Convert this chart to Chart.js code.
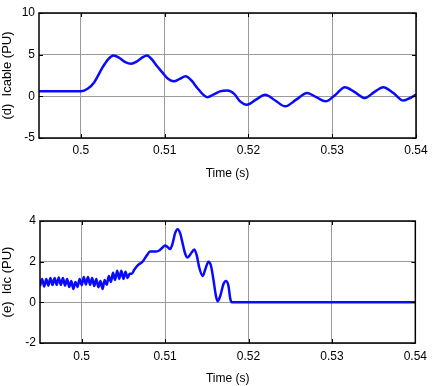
<!DOCTYPE html>
<html>
<head>
<meta charset="utf-8">
<script src="https://cdn.jsdelivr.net/npm/chart.js@4.4.1/dist/chart.umd.min.js"></script>
<style>
  html, body { margin: 0; padding: 0; background: #fff; }
  .wrap { position: absolute; left: 0; width: 433px; }
</style>
</head>
<body>
<div class="wrap" style="top:0;height:181px"><canvas id="cableChart"></canvas></div>
<div class="wrap" style="top:193px;height:193px"><canvas id="dcChart"></canvas></div>
<script>
// (d) cable current
const cableTime = [0.495, 0.5, 0.5008, 0.5016, 0.5026, 0.5033, 0.5039, 0.5046, 0.5053, 0.506,
  0.5067, 0.5074, 0.5079, 0.5085, 0.5091, 0.5097, 0.5104, 0.5111, 0.5118, 0.5125,
  0.5132, 0.5139, 0.5146, 0.5151, 0.5158, 0.5166, 0.5175, 0.5183, 0.519, 0.5198,
  0.5209, 0.522, 0.5232, 0.5244, 0.5257, 0.527, 0.5281, 0.5292, 0.5304, 0.5315,
  0.5327, 0.5339, 0.535, 0.5361, 0.5373, 0.5385, 0.5393, 0.54];
const cableValues = [0.6, 0.6, 0.9, 1.7, 3.5, 4.5, 4.9, 4.6, 4.1, 3.9,
  4.2, 4.7, 4.9, 4.4, 3.6, 2.9, 2.1, 1.8, 2.1, 2.4,
  1.9, 1.0, 0.2, -0.1, 0.2, 0.6, 0.7, 0.3, -0.6, -1.0,
  -0.4, 0.2, -0.5, -1.2, -0.4, 0.4, -0.1, -0.6, 0.2, 1.1,
  0.5, -0.2, 0.5, 1.1, 0.4, -0.5, -0.2, 0.2];

// (e) dc current
const dcTime = [0.495, 0.49525, 0.4955, 0.49575, 0.496, 0.49625, 0.4965, 0.49675, 0.497, 0.49725,
  0.4975, 0.49775, 0.498, 0.49825, 0.4985, 0.49875, 0.499, 0.49925, 0.4995, 0.49975,
  0.5, 0.50025, 0.5005, 0.50075, 0.501, 0.50125, 0.5015, 0.50175, 0.502, 0.50225,
  0.5025, 0.50275, 0.503, 0.50325, 0.5035, 0.50375, 0.504, 0.50425, 0.5045, 0.50475,
  0.505, 0.50525, 0.5055, 0.50575, 0.506,
  0.5063, 0.5068, 0.5073, 0.5078, 0.5082, 0.5088, 0.5093, 0.5097, 0.51, 0.5103,
  0.5106, 0.5109, 0.5112, 0.5115, 0.5118, 0.5121, 0.5124, 0.5127, 0.5131, 0.5135,
  0.5138, 0.5141, 0.5145, 0.5148, 0.5152, 0.5155, 0.5158, 0.5161, 0.5163, 0.5166,
  0.517, 0.5173, 0.5176, 0.5178, 0.518, 0.54];
const dcValues = [0.8, 1.15, 0.78, 1.15, 0.82, 1.2, 0.85, 1.2, 0.86, 1.22,
  0.86, 1.2, 0.82, 1.15, 0.76, 1.05, 0.66, 1.0, 0.76, 1.15,
  0.84, 1.25, 0.88, 1.25, 0.86, 1.2, 0.8, 1.15, 0.74, 1.05,
  0.66, 1.1, 0.86, 1.3, 1.0, 1.45, 1.1, 1.55, 1.15, 1.55,
  1.15, 1.5, 1.2, 1.4, 1.4,
  1.6, 1.85, 2.0, 2.3, 2.5, 2.5, 2.55, 2.7, 2.8, 2.72,
  2.62, 2.9, 3.4, 3.6, 3.4, 2.9, 2.4, 2.2, 2.4, 2.6,
  2.3, 1.7, 1.3, 1.6, 2.0, 1.8, 1.1, 0.3, 0.05, 0.3,
  0.9, 1.05, 0.8, 0.2, 0.0, 0.0];

const timeTicks = [0.5, 0.51, 0.52, 0.53, 0.54];
const cableTicks = [-5, 0, 5, 10];
const dcTicks = [-2, 0, 2, 4];

const FONT = 'Arial, "Liberation Sans", sans-serif';

// black box + small inward ticks like matlab
const boxPlugin = {
  id: 'box',
  afterDraw(chart) {
    const { ctx, chartArea: a, scales } = chart;
    ctx.save();
    ctx.strokeStyle = '#000';
    ctx.lineWidth = 1;
    scales.x.ticks.forEach(t => {
      const px = Math.round(scales.x.getPixelForValue(t.value)) + 0.5;
      ctx.beginPath();
      ctx.moveTo(px, a.top); ctx.lineTo(px, a.top + 4);
      ctx.moveTo(px, a.bottom); ctx.lineTo(px, a.bottom - 4);
      ctx.stroke();
    });
    scales.y.ticks.forEach(t => {
      const py = Math.round(scales.y.getPixelForValue(t.value)) + 0.5;
      ctx.beginPath();
      ctx.moveTo(a.left, py); ctx.lineTo(a.left + 4, py);
      ctx.moveTo(a.right, py); ctx.lineTo(a.right - 4, py);
      ctx.stroke();
    });
    ctx.lineWidth = 1.5;
    ctx.strokeRect(a.left, a.top, a.right - a.left, a.bottom - a.top);
    ctx.restore();
  }
};

function makeChart(id, times, values, yTicks, yTitle, box) {
  const points = times.map((t, i) => ({ x: t, y: values[i] }));
  return new Chart(document.getElementById(id), {
    type: 'line',
    data: {
      datasets: [{
        data: points,
        borderColor: '#0a0aff',
        borderWidth: 2.5,
        pointRadius: 0,
        cubicInterpolationMode: 'monotone',
        fill: false
      }]
    },
    options: {
      responsive: true,
      maintainAspectRatio: false,
      animation: false,
      layout: { padding: { top: box.top, right: box.right, left: 0, bottom: 0 } },
      plugins: { legend: { display: false }, tooltip: { enabled: false } },
      scales: {
        x: {
          type: 'linear',
          min: 0.495,
          max: 0.54,
          afterBuildTicks: s => { s.ticks = timeTicks.map(v => ({ value: v })); },
          afterFit: s => { s.height = box.xh; },
          grid: { color: '#9a9a9a', drawTicks: false },
          border: { display: false },
          ticks: {
            color: '#000',
            padding: box.tp,
            font: { family: FONT, size: 12 },
            callback: v => String(v)
          },
          title: {
            display: true,
            text: 'Time (s)',
            color: '#000',
            font: { family: FONT, size: 12 },
            padding: { top: 2, bottom: 0 }
          }
        },
        y: {
          min: yTicks[0],
          max: yTicks[yTicks.length - 1],
          afterBuildTicks: s => { s.ticks = yTicks.map(v => ({ value: v })); },
          afterFit: s => { s.width = box.left; },
          grid: { color: '#9a9a9a', drawTicks: false },
          border: { display: false },
          ticks: {
            color: '#000',
            padding: 4,
            font: { family: FONT, size: 12 }
          },
          title: {
            display: true,
            text: yTitle,
            color: '#000',
            font: { family: FONT, size: 13 },
            padding: 0
          }
        }
      }
    },
    plugins: [boxPlugin]
  });
}

makeChart('cableChart', cableTime, cableValues, cableTicks, '(d)  Icable (PU)',
  { top: 13, right: 17, left: 39, xh: 43, tp: 5 });
makeChart('dcChart', dcTime, dcValues, dcTicks, '(e)  Idc (PU)',
  { top: 28, right: 15, left: 40, xh: 43, tp: 6 });
</script>
</body>
</html>
